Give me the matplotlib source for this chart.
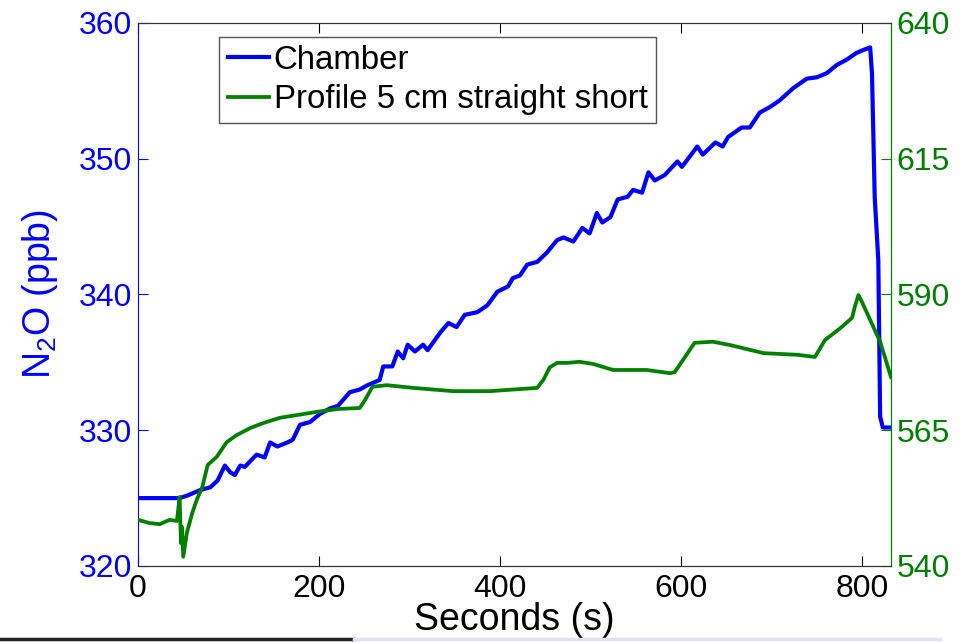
import numpy as np
import matplotlib.pyplot as plt
from matplotlib.lines import Line2D

plt.rcParams['font.family'] = ['Liberation Sans', 'DejaVu Sans']
plt.rcParams['mathtext.fontset'] = 'custom'
plt.rcParams['mathtext.rm'] = 'Liberation Sans'

# chamber N2O (left axis, ppb)
t_ch = [0, 28, 46, 55, 69, 80, 88, 96, 102, 107, 113, 118, 131, 140, 146, 154,
        165, 171, 179, 190, 201, 212, 221, 234, 245, 253, 267, 271, 281, 287,
        293, 298, 306, 315, 320, 334, 343, 352, 361, 375, 386, 397, 409, 414,
        422, 430, 441, 452, 463, 470, 481, 491, 499, 507, 513, 522, 530, 541,
        547, 557, 564, 571, 582, 596, 601, 618, 624, 638, 646, 652, 667, 676,
        687, 698, 709, 724, 739, 750, 761, 772, 783, 794, 801, 809, 811, 814,
        818, 820, 823, 832]
n2o_ch = [325.0, 325.0, 325.0, 325.2, 325.6, 325.8, 326.3, 327.4, 326.9, 326.7,
          327.4, 327.3, 328.2, 328.0, 329.1, 328.8, 329.1, 329.3, 330.4, 330.6,
          331.2, 331.6, 331.8, 332.8, 333.0, 333.3, 333.7, 334.7, 334.7, 335.8,
          335.3, 336.3, 335.8, 336.3, 335.9, 337.2, 337.9, 337.6, 338.5, 338.7,
          339.2, 340.2, 340.6, 341.2, 341.4, 342.2, 342.4, 343.1, 344.0, 344.2,
          343.9, 344.9, 344.5, 346.0, 345.3, 345.7, 347.0, 347.2, 347.7, 347.5,
          349.0, 348.4, 348.8, 349.8, 349.4, 350.9, 350.3, 351.2, 350.9, 351.6,
          352.3, 352.3, 353.4, 353.8, 354.3, 355.2, 355.9, 356.0, 356.3, 356.9,
          357.3, 357.8, 358.0, 358.2, 356.3, 347.2, 342.5, 331.0, 330.2, 330.2]

# profile 5 cm straight short (right axis)
t_pr = [0, 13, 24, 35, 43, 46, 47.5, 48.6, 50, 54, 60, 65, 71, 77, 87, 98, 109,
        124, 138, 157, 176, 198, 220, 245, 251, 259, 275, 304, 348, 389, 441,
        448, 455, 463, 474, 488, 503, 525, 562, 588, 593, 615, 635, 654, 691,
        728, 748, 759, 776, 789, 792, 796, 800, 809, 820, 832]
n2o_pr = [548.5, 547.9, 547.7, 548.5, 548.3, 552.7, 544.2, 547.2, 541.7, 546.1,
          549.8, 552.2, 554.5, 558.6, 560.1, 562.8, 564.1, 565.4, 566.3, 567.3,
          567.8, 568.4, 568.9, 569.1, 570.6, 573.0, 573.3, 572.8, 572.2, 572.2,
          572.8, 574.3, 576.6, 577.4, 577.4, 577.6, 577.2, 576.1, 576.1, 575.5,
          575.7, 581.1, 581.3, 580.7, 579.2, 578.9, 578.5, 581.6, 583.8, 585.7,
          587.7, 589.9, 588.6, 585.3, 581.3, 574.8]

x_ticks = [0, 200, 400, 600, 800]
left_ticks = [320, 330, 340, 350, 360]
right_ticks = [540, 565, 590, 615, 640]

blue = (0, 0, 1)
green = (0, 0.5, 0)

fig = plt.figure(figsize=(9.69, 6.42), dpi=100)
ax = fig.add_axes([0.1424, 0.1184, 0.7771, 0.8458])
ax2 = ax.twinx()

l1, = ax.plot(t_ch, n2o_ch, color=blue, lw=3, label='Chamber')
l2, = ax2.plot(t_pr, n2o_pr, color=green, lw=2.7, label='Profile 5 cm straight short')

ax.set_xlim(0, 832)
ax.set_ylim(320, 360)
ax2.set_ylim(540, 640)
ax.set_xticks(x_ticks)
ax.set_yticks(left_ticks)
ax2.set_yticks(right_ticks)

ax.tick_params(axis='x', direction='in', length=7, labelsize=23, pad=6,
               top=True, colors='black')
ax.tick_params(axis='y', direction='in', length=7, labelsize=23, pad=4,
               colors=blue)
ax2.tick_params(axis='y', direction='in', length=7, labelsize=23, pad=4,
                colors=green)

for a in (ax, ax2):
    a.spines['top'].set_color('#333333')
    a.spines['bottom'].set_color('#333333')
    a.spines['left'].set_color(blue)
    a.spines['right'].set_color(green)
    for s in a.spines.values():
        s.set_linewidth(0.8)
ax2.spines['left'].set_visible(False)

ax.set_xlabel('Seconds (s)', fontsize=27, labelpad=-2)
ax.set_ylabel('N$_2$O (ppb)', fontsize=27, color=blue, labelpad=14)

leg = ax2.legend(handles=[l1, l2], loc='upper left', bbox_to_anchor=(0.108, 0.975),
                 fontsize=23.8, frameon=True, fancybox=False, framealpha=1,
                 edgecolor='#555555', handlelength=1.25, handletextpad=0.15,
                 labelspacing=0.25, borderpad=0.25, borderaxespad=0)
leg.get_frame().set_linewidth(1.0)

# dark strip along the bottom edge of the screenshot
fig.add_artist(Line2D([0, 0.365], [0.004, 0.004], color='#222222', lw=2.5))
fig.add_artist(Line2D([0.365, 0.97], [0.004, 0.004], color='#dde3ee', lw=2.5))

fig.savefig('out.png', dpi=100)
